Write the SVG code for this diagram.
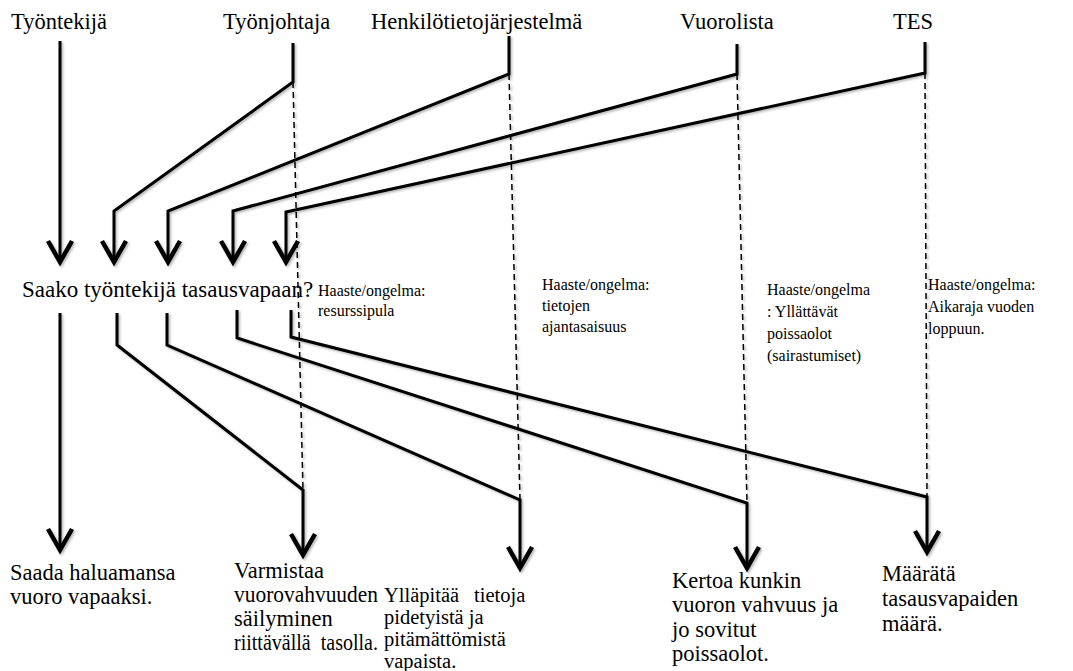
<svg xmlns="http://www.w3.org/2000/svg" width="1073" height="671" viewBox="0 0 1073 671">
  <style>
    .lbl { font-family: "Liberation Serif", serif; font-size: 22.5px; fill: #000; }
    .ask { font-family: "Liberation Serif", serif; font-size: 23px; fill: #000; }
    .tight { font-family: "Liberation Serif", serif; font-size: 20.5px; fill: #000; }
    .note { font-family: "Liberation Serif", serif; font-size: 16px; fill: #000; }
    .wire { fill: none; stroke: #000; stroke-width: 3; stroke-linejoin: miter; marker-end: url(#vee); }
    .dash { fill: none; stroke: #000; stroke-width: 1.5; stroke-dasharray: 6 4; }
  </style>
  <defs>
    <marker id="vee" markerUnits="userSpaceOnUse" markerWidth="30" markerHeight="30" viewBox="-16 -10 18 20" refX="0" refY="0" orient="auto" overflow="visible">
      <path d="M-14,-8 L0,0 L-14,8" fill="none" stroke="#000" stroke-width="3"/>
    </marker>
    <!-- faint shadow under the thick connectors; user-space region so straight lines keep it -->
    <filter id="soft" filterUnits="userSpaceOnUse" x="0" y="0" width="1073" height="671">
      <feDropShadow dx="1.5" dy="1.5" stdDeviation="1.2" flood-color="#000" flood-opacity="0.3"/>
    </filter>
  </defs>

  <rect width="1073" height="671" fill="#fff"/>

  <!-- actors -->
  <g id="n-tyontekija"><text class="lbl" x="11" y="29">Työntekijä</text></g>
  <g id="n-tyonjohtaja"><text class="lbl" x="223" y="29">Työnjohtaja</text></g>
  <g id="n-htj"><text class="lbl" x="371" y="29">Henkilötietojärjestelmä</text></g>
  <g id="n-vuorolista"><text class="lbl" x="680" y="29">Vuorolista</text></g>
  <g id="n-tes"><text class="lbl" x="893" y="29">TES</text></g>

  <!-- central question -->
  <g id="n-kysymys"><text class="ask" x="22" y="297">Saako työntekijä tasausvapaan?</text></g>

  <!-- challenges -->
  <g id="n-haaste1" class="note">
    <text x="318" y="296">Haaste/ongelma:</text>
    <text x="318" y="316">resurssipula</text>
  </g>
  <g id="n-haaste2" class="note">
    <text x="542" y="290">Haaste/ongelma:</text>
    <text x="542" y="311">tietojen</text>
    <text x="542" y="332">ajantasaisuus</text>
  </g>
  <g id="n-haaste3" class="note">
    <text x="767" y="295">Haaste/ongelma</text>
    <text x="767" y="317">: Yllättävät</text>
    <text x="767" y="339">poissaolot</text>
    <text x="767" y="361">(sairastumiset)</text>
  </g>
  <g id="n-haaste4" class="note">
    <text x="928" y="290">Haaste/ongelma:</text>
    <text x="928" y="312">Aikaraja vuoden</text>
    <text x="928" y="334">loppuun.</text>
  </g>

  <!-- goals -->
  <g id="n-tavoite1" class="lbl">
    <text x="10" y="580">Saada haluamansa</text>
    <text x="10" y="604">vuoro vapaaksi.</text>
  </g>
  <g id="n-tavoite2" class="lbl">
    <text x="234" y="578">Varmistaa</text>
    <text x="234" y="602" textLength="144" lengthAdjust="spacingAndGlyphs">vuorovahvuuden</text>
    <text x="234" y="626">säilyminen</text>
    <text x="234" y="650" textLength="144" lengthAdjust="spacingAndGlyphs">riittävällä&#160; tasolla.</text>
  </g>
  <g id="n-tavoite3" class="tight">
    <text x="384" y="602">Ylläpitää<tspan x="474">tietoja</tspan></text>
    <text x="384" y="624">pidetyistä ja</text>
    <text x="384" y="646">pitämättömistä</text>
    <text x="384" y="668">vapaista.</text>
  </g>
  <g id="n-tavoite4" class="lbl">
    <text x="672" y="588">Kertoa kunkin</text>
    <text x="672" y="612">vuoron vahvuus ja</text>
    <text x="672" y="637">jo sovitut</text>
    <text x="672" y="661">poissaolot.</text>
  </g>
  <g id="n-tavoite5" class="lbl">
    <text x="882" y="581">Määrätä</text>
    <text x="882" y="606">tasausvapaiden</text>
    <text x="882" y="631">määrä.</text>
  </g>

  <g id="connectors" filter="url(#soft)">
    <!-- actor to question -->
    <path class="wire" d="M60,41 V262"/>
    <path class="wire" d="M293,43 V82 L114,211 V262"/>
    <path class="wire" d="M509,36 V74 L168,211 V262"/>
    <path class="wire" d="M737,44 V74 L233,211 V262"/>
    <path class="wire" d="M925,42 V73 L286,212 V262"/>
    <!-- question to goals -->
    <path class="wire" d="M60,313 V550"/>
    <path class="wire" d="M117,313 V345 L303,490 V555"/>
    <path class="wire" d="M167,313 V345 L520,500 V568"/>
    <path class="wire" d="M237,310 V338 L747,503 V568"/>
    <path class="wire" d="M291,310 V337 L927,497 V552"/>
    <!-- actor guides -->
    <path class="dash" d="M293,82 L303,490"/>
    <path class="dash" d="M509,74 L520,500"/>
    <path class="dash" d="M737,74 L747,503"/>
    <path class="dash" d="M925,73 L927,497"/>
  </g>
</svg>
